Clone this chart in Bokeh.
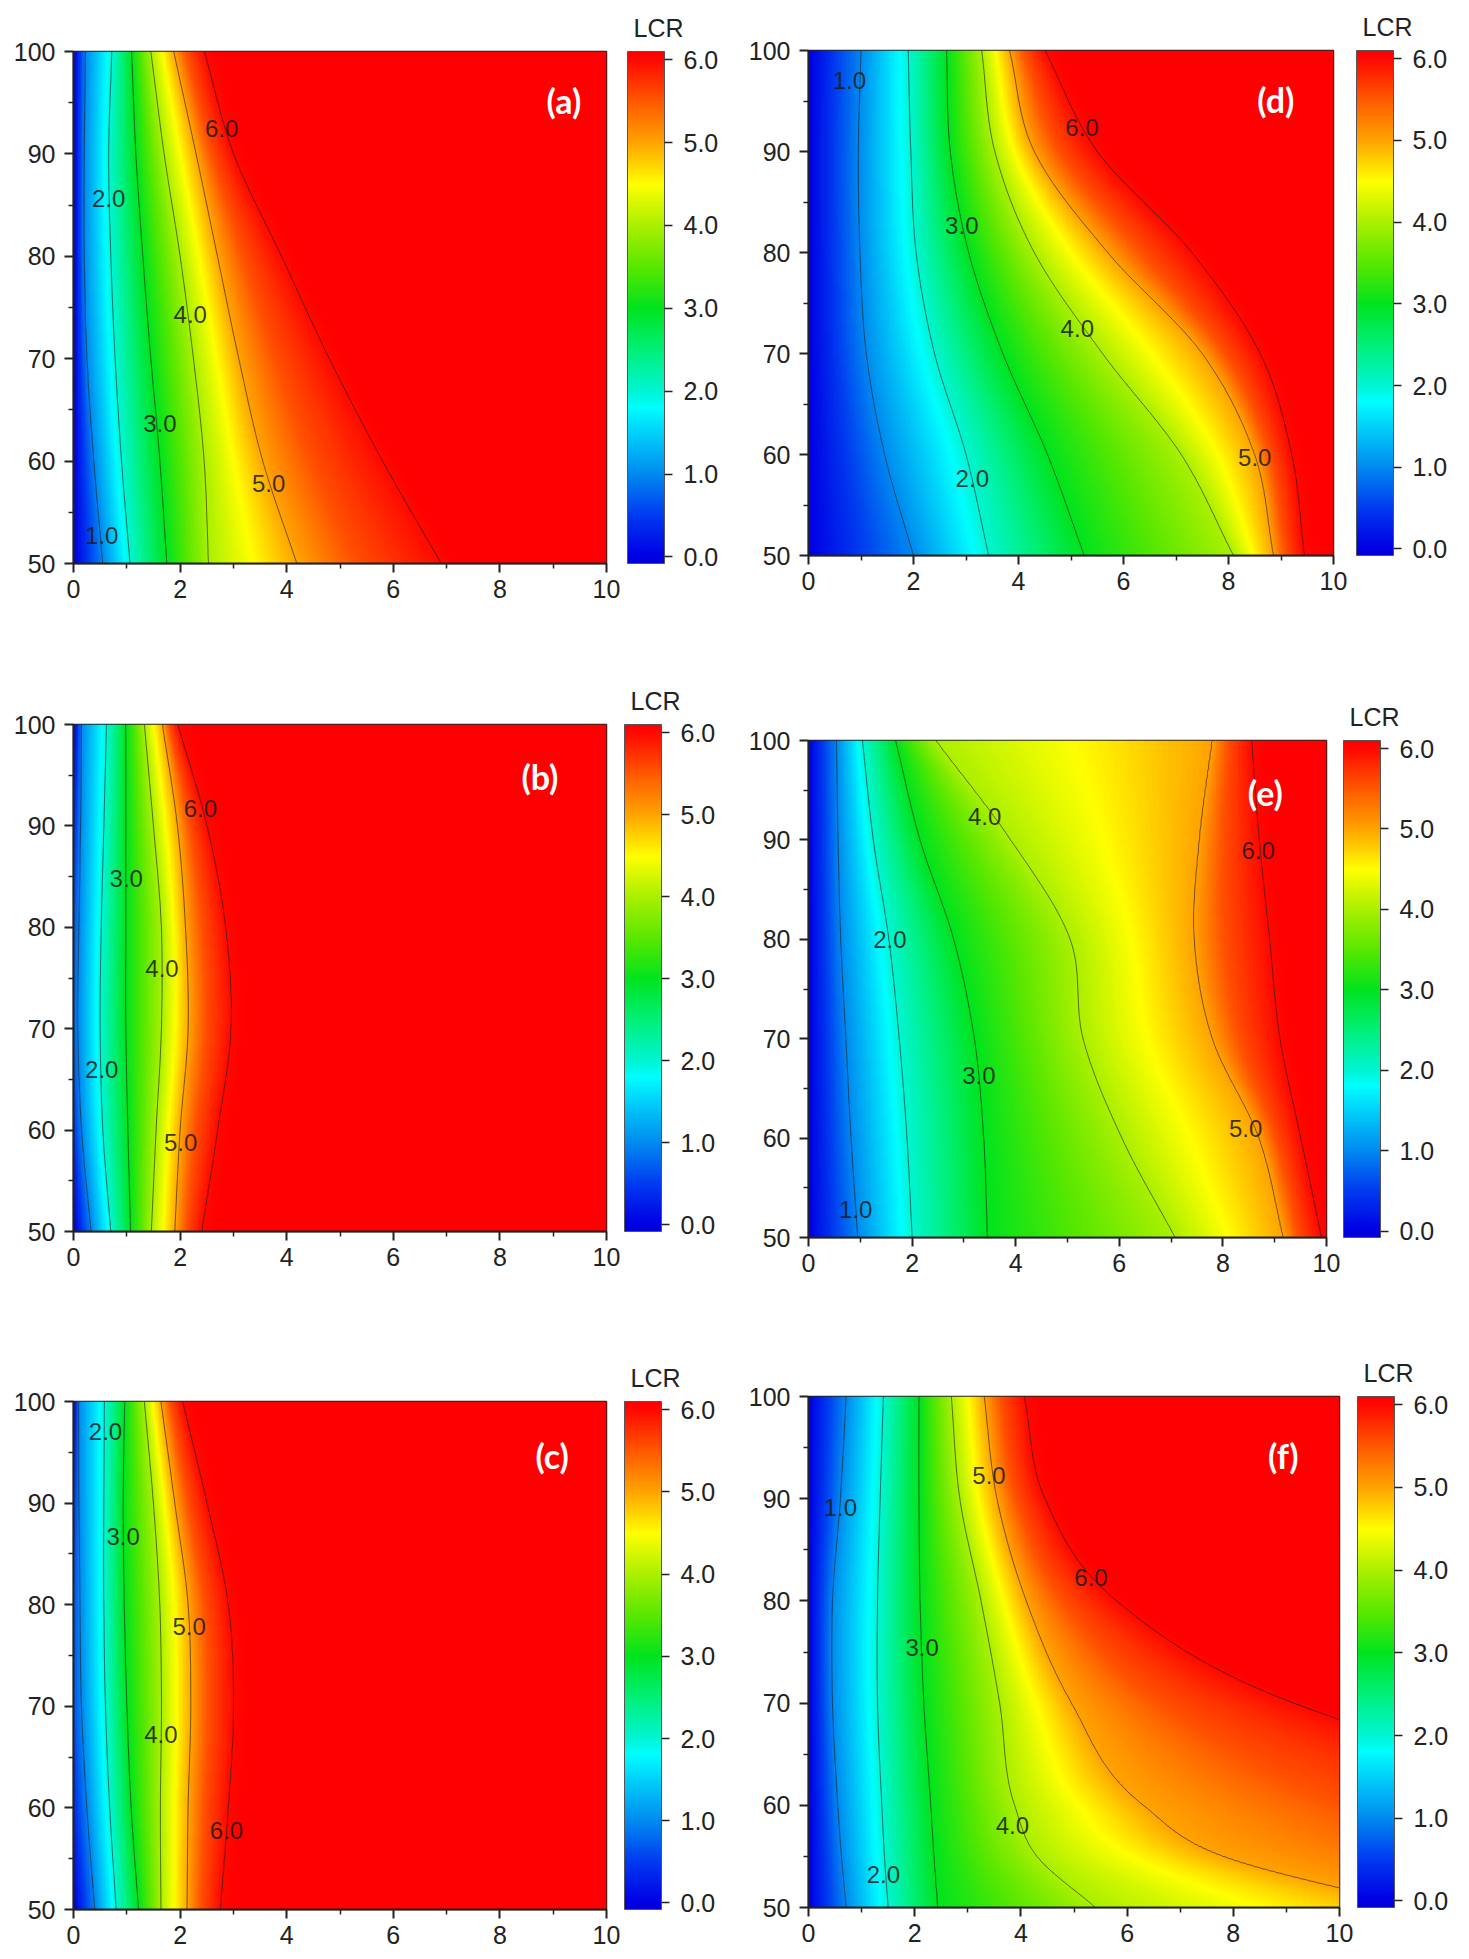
"""LCR の等高線図を6枚並べて描く."""
import typing as typ

import numpy as np
import bokeh.models as bm
import bokeh.plotting as bp
from bokeh.core.properties import value
from bokeh.embed import file_html
from bokeh.layouts import column, row
from bokeh.resources import INLINE

LEVELS = [1.0, 2.0, 3.0, 4.0, 5.0, 6.0]
ROWS = [50, 60, 70, 80, 90, 100]
ROWS_F = [50, 55, 60, 70, 80, 90, 100]
X_TICKS = [0, 2, 4, 6, 8, 10]
X_MINOR = [1, 3, 5, 7, 9]
Y_TICKS = [50, 60, 70, 80, 90, 100]
Y_MINOR = [55, 65, 75, 85, 95]
CBAR_TICKS = [0, 1, 2, 3, 4, 5, 6]

# x=0 での LCR (行ごと) / 等高線 1.0..6.0 が各行を横切る x 位置
A_EDGE = [0.0, 0.0, 0.0, 0.0, 0.0, 0.0]
A_LINES = [
    [0.55, 0.38, 0.25, 0.2, 0.2, 0.22],
    [1.06, 0.9, 0.78, 0.7, 0.66, 0.72],
    [1.75, 1.62, 1.45, 1.3, 1.17, 1.09],
    [2.53, 2.45, 2.25, 2.0, 1.7, 1.45],
    [4.19, 3.55, 3.1, 2.7, 2.3, 1.88],
    [6.9, 5.8, 4.8, 3.9, 3.0, 2.45],
]
A_LABELS = [("1.0", 0.53, 52.7), ("2.0", 0.66, 85.6), ("3.0", 1.62, 63.7),
            ("4.0", 2.19, 74.3), ("5.0", 3.66, 57.8), ("6.0", 2.78, 92.5)]

B_EDGE = [0.0, 0.5, 0.8, 0.7, 0.4, 0.0]
B_LINES = [
    [0.33, 0.15, 0.08, 0.1, 0.13, 0.15],
    [0.7, 0.55, 0.5, 0.52, 0.57, 0.62],
    [1.07, 1.02, 0.98, 0.98, 0.98, 0.98],
    [1.46, 1.55, 1.65, 1.65, 1.5, 1.33],
    [1.9, 2.0, 2.15, 2.1, 1.95, 1.67],
    [2.4, 2.7, 2.95, 2.85, 2.5, 1.95],
]
B_LABELS = [("6.0", 2.38, 91.7), ("3.0", 0.99, 84.8), ("4.0", 1.66, 75.9),
            ("2.0", 0.53, 66.0), ("5.0", 2.01, 58.8)]

C_EDGE = [0.0, 0.4, 0.7, 0.7, 0.5, 0.0]
C_LINES = [
    [0.4, 0.25, 0.15, 0.12, 0.1, 0.09],
    [0.8, 0.68, 0.6, 0.57, 0.57, 0.58],
    [1.22, 1.08, 1.0, 0.95, 0.93, 0.96],
    [1.64, 1.63, 1.65, 1.62, 1.5, 1.33],
    [2.13, 2.15, 2.2, 2.15, 1.9, 1.64],
    [2.75, 2.9, 3.0, 2.9, 2.5, 2.04],
]
C_LABELS = [("2.0", 0.6, 97.0), ("3.0", 0.93, 86.7), ("5.0", 2.17, 77.9),
            ("4.0", 1.64, 67.2), ("6.0", 2.87, 57.8)]

D_EDGE = [0.0, 0.0, 0.0, 0.0, 0.0, 0.0]
D_LINES = [
    [2.0, 1.45, 1.1, 0.98, 0.95, 1.0],
    [3.43, 3.0, 2.4, 2.05, 1.95, 1.9],
    [5.25, 4.55, 3.7, 3.05, 2.7, 2.63],
    [8.1, 7.1, 5.6, 4.3, 3.55, 3.3],
    [8.86, 8.5, 7.5, 5.7, 4.3, 3.83],
    [9.44, 9.2, 8.6, 7.3, 5.5, 4.5],
]
D_LABELS = [("1.0", 0.78, 97.0), ("6.0", 5.21, 92.4), ("3.0", 2.92, 82.7),
            ("4.0", 5.12, 72.5), ("5.0", 8.5, 59.7), ("2.0", 3.12, 57.6)]

E_EDGE = [0.0, 0.0, 0.0, 0.0, 0.0, 0.0]
E_LINES = [
    [0.95, 0.82, 0.72, 0.62, 0.57, 0.54],
    [2.0, 1.9, 1.75, 1.55, 1.25, 1.04],
    [3.45, 3.38, 3.2, 2.8, 2.15, 1.68],
    [7.08, 6.05, 5.3, 5.05, 3.9, 2.45],
    [9.17, 8.7, 7.8, 7.45, 7.55, 7.8],
    [9.9, 9.5, 9.1, 8.9, 8.7, 8.55],
]
E_LABELS = [("4.0", 3.4, 92.4), ("6.0", 8.68, 88.9), ("2.0", 1.57, 80.0),
            ("3.0", 3.29, 66.3), ("5.0", 8.44, 61.0), ("1.0", 0.91, 52.8)]

F_EDGE = [0.0, 0.0, 0.0, 0.0, 0.0, 0.0, 0.0]
F_LINES = [
    [0.71, 0.62, 0.55, 0.45, 0.45, 0.6, 0.71],
    [1.5, 1.43, 1.38, 1.3, 1.3, 1.35, 1.41],
    [2.43, 2.36, 2.3, 2.17, 2.1, 2.08, 2.08],
    [5.4, 4.3, 3.88, 3.6, 3.25, 2.85, 2.69],
    [11.5, 7.8, 6.3, 4.95, 4.1, 3.55, 3.31],
    [26.0, 21.0, 16.0, 9.15, 5.8, 4.45, 4.06],
]
F_LABELS = [("5.0", 3.4, 92.3), ("1.0", 0.6, 89.1), ("6.0", 5.32, 82.3),
            ("3.0", 2.14, 75.4), ("4.0", 3.84, 58.0), ("2.0", 1.41, 53.2)]

TAGS = ["(a)", "(b)", "(c)", "(d)", "(e)", "(f)"]
TAG_X = [9.2, 8.75, 8.98, 8.9, 8.82, 8.94]
TAG_Y = [95.2, 94.9, 94.7, 95.1, 94.8, 94.2]

# カラーバー (Origin の Rainbow 風)
CBAR_LOW = -0.08
CBAR_HIGH = 6.1
CBAR_STOPS = [-0.08, 0.0, 0.5, 1.0, 1.5, 1.8, 2.0, 2.5, 3.0, 3.5, 4.0, 4.5, 5.0, 5.5, 6.0, 6.1]
CBAR_COLORS = ["#0000d2", "#0000e6", "#003cf0", "#008cf0", "#00d2fa", "#00ffff", "#00f5d2", "#00f078",
               "#00e41e", "#5ae800", "#aaf000", "#ffff00", "#ffa500", "#ff5a00", "#ff0a00", "#ff0000"]

FONT = "Liberation Sans"
INK = "#222222"

# left, top, frame_w, frame_h, right, bottom
BOXES = {
    "a": (73, 51, 533, 512, 129, 90),
    "b": (73, 71, 533, 507, 129, 80),
    "c": (73, 90, 533, 508, 129, 46),
    "d": (71, 50, 525, 505, 138, 100),
    "e": (73, 85, 518, 497, 143, 70),
    "f": (67, 89, 531, 511, 136, 46),
}
CBAR_GAP = {"a": 21, "b": 18, "c": 18, "d": 23, "e": 17, "f": 18}


def make_palette(n: int = 256) -> typ.List[str]:
    """カラーバーの色を作る."""
    vals = np.linspace(CBAR_LOW, CBAR_HIGH, n)
    rgb = np.array([[int(c[i:i + 2], 16) for i in (1, 3, 5)] for c in CBAR_COLORS], dtype=float)
    chans = [np.interp(vals, CBAR_STOPS, rgb[:, k]) for k in range(3)]
    return ["#%02x%02x%02x" % (int(r), int(g), int(b)) for r, g, b in zip(*chans)]


def hermite(ys: typ.Sequence[float], ps: typ.Sequence[float], yf: np.ndarray) -> np.ndarray:
    """行ごとの位置を y 方向に滑らかにつなぐ."""
    ys_a = np.asarray(ys, dtype=float)
    ps_a = np.asarray(ps, dtype=float)
    m = np.gradient(ps_a, ys_a)
    i = np.clip(np.searchsorted(ys_a, yf) - 1, 0, len(ys_a) - 2)
    h = ys_a[i + 1] - ys_a[i]
    t = (yf - ys_a[i]) / h
    h00 = 2 * t**3 - 3 * t**2 + 1
    h10 = t**3 - 2 * t**2 + t
    h01 = -2 * t**3 + 3 * t**2
    h11 = t**3 - t**2
    return h00 * ps_a[i] + h10 * h * m[i] + h01 * ps_a[i + 1] + h11 * h * m[i + 1]


def make_field(rows, edge, lines, xg: np.ndarray, yg: np.ndarray) -> np.ndarray:
    """等高線の位置から LCR の面を作る (5→6 の間はやや早く飽和させる)."""
    pos = np.array([hermite(rows, ln, yg) for ln in lines])
    v0 = np.interp(yg, rows, edge)
    z = np.empty((len(yg), len(xg)))
    vs = [0.0] + LEVELS[:5] + [5.55] + LEVELS[5:] + [6.5]
    for j in range(len(yg)):
        p = pos[:, j]
        mid = p[4] + 0.4 * (p[5] - p[4])
        xs = np.concatenate([[0.0], p[:5], [mid], p[5:], [p[-1] + 1.5]])
        xs = np.maximum.accumulate(xs) + np.arange(len(xs)) * 1e-6
        vs[0] = v0[j]
        z[j] = np.interp(xg, xs, vs)
    return z


def style_axis(axis, ticks, minor, standoff: int) -> None:
    """軸の見た目."""
    axis.ticker = bm.FixedTicker(ticks=ticks, minor_ticks=minor)
    axis.axis_line_width = 2
    axis.axis_line_color = INK
    axis.major_tick_in = 0
    axis.major_tick_out = 9
    axis.minor_tick_in = 0
    axis.minor_tick_out = 5
    axis.major_tick_line_width = 2
    axis.minor_tick_line_width = 1.5
    axis.major_tick_line_color = INK
    axis.minor_tick_line_color = INK
    axis.major_label_text_font = FONT
    axis.major_label_text_font_size = "25px"
    axis.major_label_text_color = INK
    axis.major_label_standoff = standoff


def make_panel(key: str, rows, edge, lines, labels, idx: int, mapper) -> bp.figure:
    """1枚分の図."""
    left, top, fw, fh, right, bottom = BOXES[key]
    fig = bp.figure(
        frame_width=fw, frame_height=fh,
        min_border_left=left, min_border_top=top, min_border_right=right, min_border_bottom=bottom,
        x_range=bm.Range1d(0, 10), y_range=bm.Range1d(50, 100),
        output_backend="svg", toolbar_location=None,
    )
    fig.grid.visible = False
    fig.outline_line_color = INK
    fig.outline_line_width = 1.5
    style_axis(fig.xaxis[0], X_TICKS, X_MINOR, 7)
    style_axis(fig.yaxis[0], Y_TICKS, Y_MINOR, 9)

    xg = np.linspace(0, 10, 401)
    yg = np.linspace(50, 100, 251)
    z = make_field(rows, edge, lines, xg, yg)
    fig.image(image=[z], x=0, y=50, dw=10, dh=50, color_mapper=mapper)
    fig.contour(xg, yg, z, levels=LEVELS, line_color="#1e1e1e", line_alpha=0.7, line_width=0.9)

    src = bp.ColumnDataSource(dict(
        text=[lb[0] for lb in labels], x=[lb[1] for lb in labels], y=[lb[2] for lb in labels]))
    fig.text("x", "y", text="text", source=src, text_font=value(FONT), text_font_size="24px",
             text_color="#1a1a1a", text_alpha=0.85, text_align="center", text_baseline="middle")
    fig.text(x=[TAG_X[idx]], y=[TAG_Y[idx]], text=[TAGS[idx]], text_font=value("Lato"),
             text_font_size="34px", text_font_style="bold", text_color="white",
             text_align="center", text_baseline="middle")

    gap = CBAR_GAP[key]
    cbar = bm.ColorBar(
        color_mapper=mapper, location=(fw + gap, 0), orientation="vertical",
        width=37, height=fh, padding=0, margin=0,
        ticker=bm.FixedTicker(ticks=CBAR_TICKS), formatter=bm.NumeralTickFormatter(format="0.0"),
        major_label_text_font=FONT, major_label_text_font_size="25px", major_label_text_color=INK,
        major_tick_in=0, major_tick_out=8, major_tick_line_color=INK, major_tick_line_width=1.5,
        minor_tick_line_color=None, bar_line_color="#555555", label_standoff=11,
        background_fill_color=None, border_line_color=None,
    )
    fig.add_layout(cbar, "center")
    fig.add_layout(bm.Title(
        text="LCR", align="left", offset=fw + gap + 6, standoff=20, vertical_align="bottom",
        text_font=FONT, text_font_size="25px", text_font_style="normal", text_color=INK), "above")
    return fig


def main() -> None:
    """メイン."""
    mapper = bm.LinearColorMapper(palette=make_palette(), low=CBAR_LOW, high=CBAR_HIGH)
    pa = make_panel("a", ROWS, A_EDGE, A_LINES, A_LABELS, 0, mapper)
    pb = make_panel("b", ROWS, B_EDGE, B_LINES, B_LABELS, 1, mapper)
    pc = make_panel("c", ROWS, C_EDGE, C_LINES, C_LABELS, 2, mapper)
    pd_ = make_panel("d", ROWS, D_EDGE, D_LINES, D_LABELS, 3, mapper)
    pe = make_panel("e", ROWS, E_EDGE, E_LINES, E_LABELS, 4, mapper)
    pf = make_panel("f", ROWS_F, F_EDGE, F_LINES, F_LABELS, 5, mapper)
    layout = row(column(pa, pb, pc), column(pd_, pe, pf))
    with open("out.html", "w") as f:
        f.write(file_html(layout, INLINE, title="LCR"))


if __name__ == "__main__":
    main()
